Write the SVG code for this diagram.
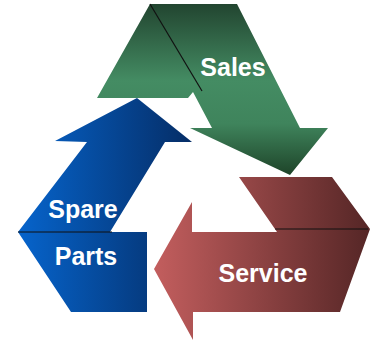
<svg xmlns="http://www.w3.org/2000/svg" width="371" height="344" viewBox="0 0 371 344">
<defs>
<linearGradient id="gG" x1="0" y1="0" x2="0" y2="1">
<stop offset="0" stop-color="#224530"/>
<stop offset="0.45" stop-color="#448c63"/>
<stop offset="0.7" stop-color="#3f845c"/>
<stop offset="1" stop-color="#1e4429"/>
</linearGradient>
<linearGradient id="gR" x1="0" y1="0" x2="1" y2="0">
<stop offset="0" stop-color="#c35e5e"/>
<stop offset="1" stop-color="#552626"/>
</linearGradient>
<linearGradient id="gB" x1="0" y1="0" x2="1" y2="0">
<stop offset="0" stop-color="#0664cc"/>
<stop offset="1" stop-color="#052d66"/>
</linearGradient>
</defs>
<style>
.lbl{font-family:"Liberation Sans",Arial,sans-serif;font-weight:bold;font-size:25px;fill:#ffffff;text-anchor:middle}
.edge{stroke:#111;stroke-width:1.2;fill:none}
</style>
<g id="spare-parts">
<polygon points="137,98 192,142 165,142 110,232 147,232 147,312 71,312 18,232 87,142 55,141" fill="url(#gB)"/>
<text class="lbl" x="83" y="218">Spare</text>
<text class="lbl" x="86" y="265">Parts</text>
</g>
<g id="sales">
<polygon points="150,4 237,4 300,128 328,128 290,175 190,128 212,128 193,92 188,98 97,98" fill="url(#gG)"/>
<text class="lbl" x="233" y="76">Sales</text>
</g>
<g id="service">
<polygon points="239,177 332,177 370,229 340,312 193,312 193,340 154,269 192,202 192,232 277,232 275,229" fill="url(#gR)"/>
<text class="lbl" x="263" y="282">Service</text>
</g>
<g id="connectors">
<line class="edge" x1="150" y1="4" x2="202" y2="91"/>
<line class="edge" x1="275" y1="229" x2="368" y2="229"/>
<line class="edge" x1="18" y1="232" x2="112" y2="232"/>
</g>
</svg>
